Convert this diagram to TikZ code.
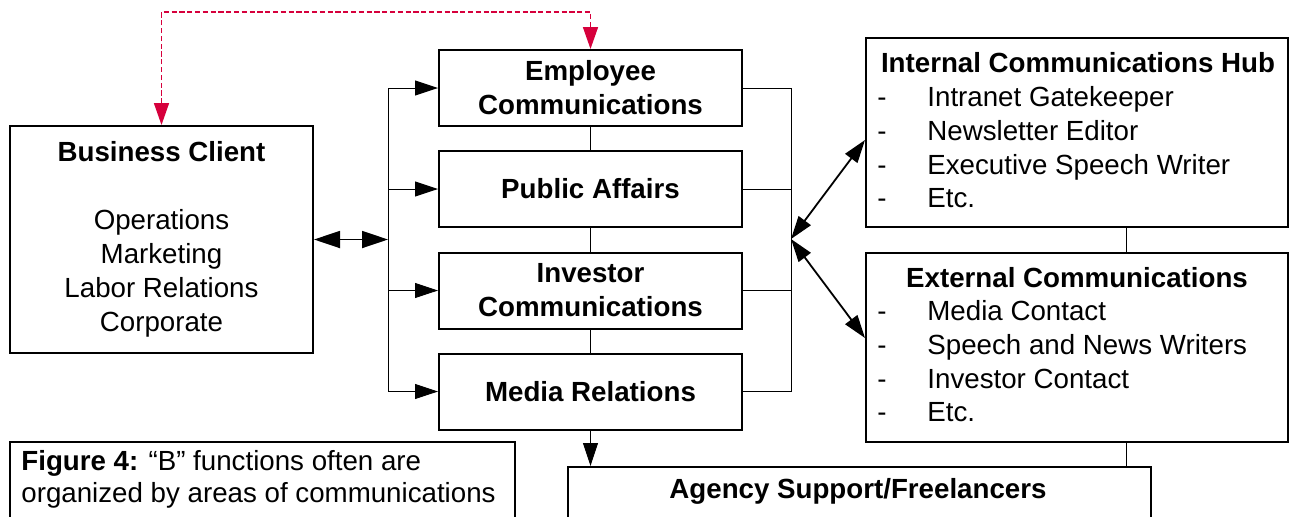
\documentclass[tikz,border=0pt]{standalone}
\usepackage{fontspec}
\setmainfont{Liberation Sans}
\usetikzlibrary{arrows.meta}
\definecolor{linkred}{RGB}{214,0,60}
\newcommand{\bodyfont}{\fontsize{13.85pt}{16.95pt}\selectfont}
\begin{document}
\begin{tikzpicture}[x=0.5pt,y=-0.5pt,
  box/.style={draw, line width=1pt, inner sep=0pt, anchor=north west, align=center, font=\bodyfont},
  unitbox/.style={box, minimum width=151.5pt, minimum height=38pt, font=\bodyfont\bfseries},
  listbox/.style={box, minimum width=211pt, minimum height=94.5pt},
  txt/.style={inner sep=0pt, font=\bodyfont},
  thinline/.style={line width=0.5pt},
  tipline/.style={line width=0.5pt, -{Triangle[length=11.5pt,width=7.5pt]}},
  twoway/.style={line width=0.9pt, {Triangle[length=11.5pt,width=7.5pt]}-{Triangle[length=11.5pt,width=7.5pt]}},
  bigtwoway/.style={line width=0.9pt, {Triangle[length=13pt,width=8.5pt]}-{Triangle[length=13pt,width=8.5pt]}},
  dashlink/.style={linkred, line width=0.8pt, dash pattern=on 2.6pt off 1.3pt,
    {Triangle[length=11pt,width=7.5pt]}-{Triangle[length=11pt,width=7.5pt]}},
]
\useasboundingbox (0,0) rectangle (1301,516);
\clip (0,0) rectangle (1301,516);
\fill[white] (0,0) rectangle (1301,516);

% client box
\node[box, minimum width=151.5pt, minimum height=113.5pt] (bc) at (9,125)
  {\textbf{Business Client}\\[16.95pt]Operations\\Marketing\\Labor Relations\\Corporate};

% communication function boxes
\node[unitbox] (emp) at (438,49) {Employee\\Communications};
\node[unitbox] (pub) at (438,150) {Public Affairs};
\node[unitbox] (inv) at (438,251.5) {Investor\\Communications};
\node[unitbox] (med) at (438,352.5) {Media Relations};

% hub boxes
\node[listbox] (ich) at (865,37) {};
\node[listbox] (ext) at (865,252) {};
\node[txt, font=\bodyfont\bfseries, anchor=base] (icht) at (1078,72.7) {Internal Communications Hub};
\node[txt, font=\bodyfont\bfseries, anchor=base] (extt) at (1077,287) {External Communications};

\foreach \y/\t [count=\i] in {106/Intranet Gatekeeper, 140/Newsletter Editor, 174/Executive Speech Writer, 207.7/Etc.}{
  \node[txt, anchor=base west] (ichd\i) at (877,\y) {-};
  \node[txt, anchor=base west] (ichi\i) at (927,\y) {\t};
}
\foreach \y/\t [count=\i] in {320.7/Media Contact, 354/Speech and News Writers, 388/Investor Contact, 421.7/Etc.}{
  \node[txt, anchor=base west] (extd\i) at (877,\y) {-};
  \node[txt, anchor=base west] (exti\i) at (927,\y) {\t};
}

% agency and caption boxes
\node[box, minimum width=291.5pt, minimum height=60pt] (ag) at (567,466) {};
\node[txt, font=\bodyfont\bfseries, anchor=base] (agt) at (858,498) {Agency Support/Freelancers};
\node[box, minimum width=252.5pt, minimum height=70pt] (fig) at (9,441) {};
\node[txt, anchor=base west] (fig1) at (21,470.7) {\textbf{Figure 4:} “B” functions often are};
\node[txt, anchor=base west] (fig2) at (21,502.5) {organized by areas of communications};

% helper coordinates
\coordinate (lb) at (388,0);
\coordinate (rb) at (791,0);
\coordinate (link) at (1126,0);
\coordinate (topy) at (0,12);
\coordinate (hubin) at (865,140);
\coordinate (extin) at (865,338);
\coordinate (fork) at (791,239);

% vertical chain of function boxes
\draw[thinline] (emp.south) -- (pub.north);
\draw[thinline] (pub.south) -- (inv.north);
\draw[thinline] (inv.south) -- (med.north);

% left distribution bracket
\draw[thinline] (lb |- emp.west) -- (lb |- med.west);
\draw[tipline] (lb |- emp.west) -- (emp.west);
\draw[tipline] (lb |- pub.west) -- (pub.west);
\draw[tipline] (lb |- inv.west) -- (inv.west);
\draw[tipline] (lb |- med.west) -- (med.west);
\draw[bigtwoway] (bc.east) -- (lb |- bc.east);

% right collecting bracket
\draw[thinline] (emp.east) -- (rb |- emp.east) -- (rb |- med.east) -- (med.east);
\draw[thinline] (pub.east) -- (rb |- pub.east);
\draw[thinline] (inv.east) -- (rb |- inv.east);
\draw[twoway] (fork) -- (hubin);
\draw[twoway] (fork) -- (extin);

% hub links and agency
\draw[thinline] (link |- ich.south) -- (link |- ext.north);
\draw[thinline] (link |- ext.south) -- (link |- ag.north);
\draw[tipline] (med.south) -- (med.south |- ag.north);

% dashed client link
\draw[dashlink] (bc.north) |- (emp.north |- topy) -- (emp.north);
\end{tikzpicture}
\end{document}
